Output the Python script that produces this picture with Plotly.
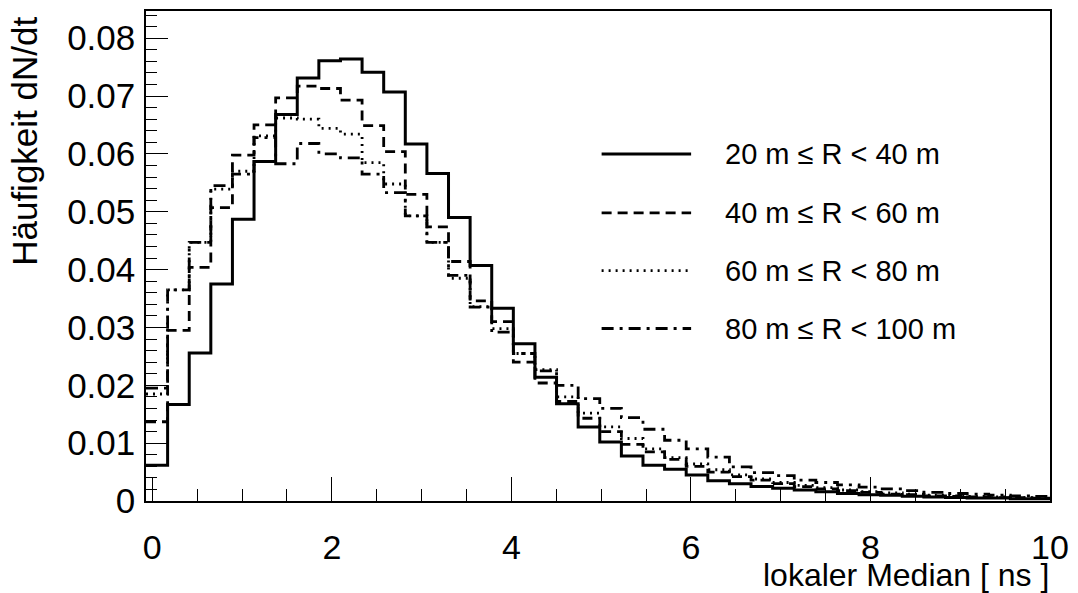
import plotly.graph_objects as go

# Histogram binning (lower edge of first bin and bin width, in ns)
BIN_START = -0.07
BIN_WIDTH = 0.2407

# Normalised frequency dN/dt per bin, one list per core-distance range
r20_40 = [0.0062, 0.0167, 0.0256, 0.0375, 0.0487, 0.0587, 0.0668, 0.0731, 0.0761, 0.0764,
          0.0741, 0.0707, 0.0617, 0.0566, 0.0490, 0.0407, 0.0333, 0.0272, 0.0214, 0.0168,
          0.0128, 0.0102, 0.0078, 0.0062, 0.0055, 0.0045, 0.0035, 0.0030, 0.0025, 0.0022,
          0.0019, 0.0016, 0.0013, 0.0011, 0.0010, 0.0008, 0.0007, 0.0006, 0.0005, 0.0005,
          0.0004, 0.0004]
r40_60 = [0.0137, 0.0295, 0.0404, 0.0507, 0.0598, 0.0650, 0.0697, 0.0717, 0.0713, 0.0693,
          0.0649, 0.0604, 0.0530, 0.0474, 0.0414, 0.0346, 0.0310, 0.0240, 0.0204, 0.0172,
          0.0143, 0.0120, 0.0098, 0.0085, 0.0072, 0.0060, 0.0050, 0.0042, 0.0036, 0.0030,
          0.0025, 0.0021, 0.0018, 0.0015, 0.0012, 0.0011, 0.0009, 0.0008, 0.0007, 0.0006,
          0.0006, 0.0005]
r60_80 = [0.0185, 0.0365, 0.0447, 0.0539, 0.0570, 0.0631, 0.0662, 0.0660, 0.0644, 0.0634,
          0.0585, 0.0548, 0.0493, 0.0447, 0.0385, 0.0336, 0.0298, 0.0255, 0.0227, 0.0180,
          0.0152, 0.0128, 0.0108, 0.0090, 0.0075, 0.0064, 0.0054, 0.0045, 0.0038, 0.0032,
          0.0027, 0.0023, 0.0019, 0.0016, 0.0014, 0.0012, 0.0010, 0.0009, 0.0008, 0.0007,
          0.0006, 0.0006]
r80_100 = [0.0195, 0.0365, 0.0447, 0.0545, 0.0565, 0.0628, 0.0583, 0.0618, 0.0600, 0.0593,
           0.0565, 0.0533, 0.0493, 0.0447, 0.0390, 0.0335, 0.0292, 0.0255, 0.0225, 0.0200,
           0.0177, 0.0160, 0.0144, 0.0124, 0.0105, 0.0090, 0.0076, 0.0059, 0.0049, 0.0044,
           0.0036, 0.0032, 0.0028, 0.0024, 0.0021, 0.0018, 0.0015, 0.0013, 0.0012, 0.0010,
           0.0009, 0.0008]

labels = ["20 m \u2264 R < 40 m", "40 m \u2264 R < 60 m",
          "60 m \u2264 R < 80 m", "80 m \u2264 R < 100 m"]
series = [r20_40, r40_60, r60_80, r80_100]
dashes = ["solid", "10px,6px", "2px,5px", "12px,6px,3px,6px"]
widths = [3, 2.8, 2.8, 2.8]

FONT = "Liberation Sans"

fig = go.Figure()
for vals, name, dash, w in zip(series, labels, dashes, widths):
    n = len(vals)
    edges = [BIN_START + i * BIN_WIDTH for i in range(n + 1)]
    fig.add_trace(go.Scatter(
        x=edges, y=list(vals) + [vals[-1]],
        mode="lines", line=dict(shape="hv", color="black", width=w, dash=dash),
        name=name, showlegend=False, cliponaxis=True,
    ))

# Legend drawn as line samples plus labels inside the frame
legend_y = [0.708, 0.588, 0.470, 0.352]
for yv, name, dash, w in zip(legend_y, labels, dashes, widths):
    fig.add_shape(type="line", xref="paper", yref="paper",
                  x0=0.504, x1=0.603, y0=yv, y1=yv,
                  line=dict(color="black", width=w, dash=dash))
    fig.add_annotation(xref="paper", yref="paper", x=0.638, y=yv,
                       text=name, showarrow=False, xanchor="left", yanchor="middle",
                       font=dict(family=FONT, size=29, color="black"))

# Axis titles
fig.add_annotation(xref="paper", yref="paper", x=1.0, y=-0.1505,
                   text="lokaler Median [ ns ]", showarrow=False,
                   xanchor="right", yanchor="middle", borderpad=0,
                   font=dict(family=FONT, size=32, color="black"))
fig.add_annotation(xref="paper", yref="paper", x=-0.1345, y=0.99,
                   text="Häufigkeit dN/dt", showarrow=False, textangle=-90,
                   xanchor="center", yanchor="top", borderpad=0,
                   font=dict(family=FONT, size=35, color="black"))

axis_common = dict(
    showgrid=False, zeroline=False, showline=True, mirror=True,
    linecolor="black", linewidth=1.5, ticks="inside", tickcolor="black",
    tickwidth=1,
)
fig.update_xaxes(range=[-0.07, 10.0], tick0=0, dtick=2, ticklen=24,
                 ticklabelstandoff=15,
                 tickfont=dict(family=FONT, size=34, color="black"),
                 minor=dict(ticks="inside", dtick=0.5, ticklen=12, tickcolor="black", tickwidth=1),
                 **axis_common)
fig.update_yaxes(range=[0, 0.0847], tick0=0, dtick=0.01, ticklen=22,
                 ticklabelstandoff=2,
                 tickfont=dict(family=FONT, size=35, color="black"),
                 minor=dict(ticks="inside", dtick=0.002, ticklen=11, tickcolor="black", tickwidth=1),
                 **axis_common)

fig.update_layout(
    width=1078, height=593,
    margin=dict(l=146, r=25, t=9, b=92),
    paper_bgcolor="white", plot_bgcolor="white",
    font=dict(family=FONT, color="black"),
)

fig.write_html("out.html", include_plotlyjs=True, full_html=True,
               config={"displayModeBar": False})
